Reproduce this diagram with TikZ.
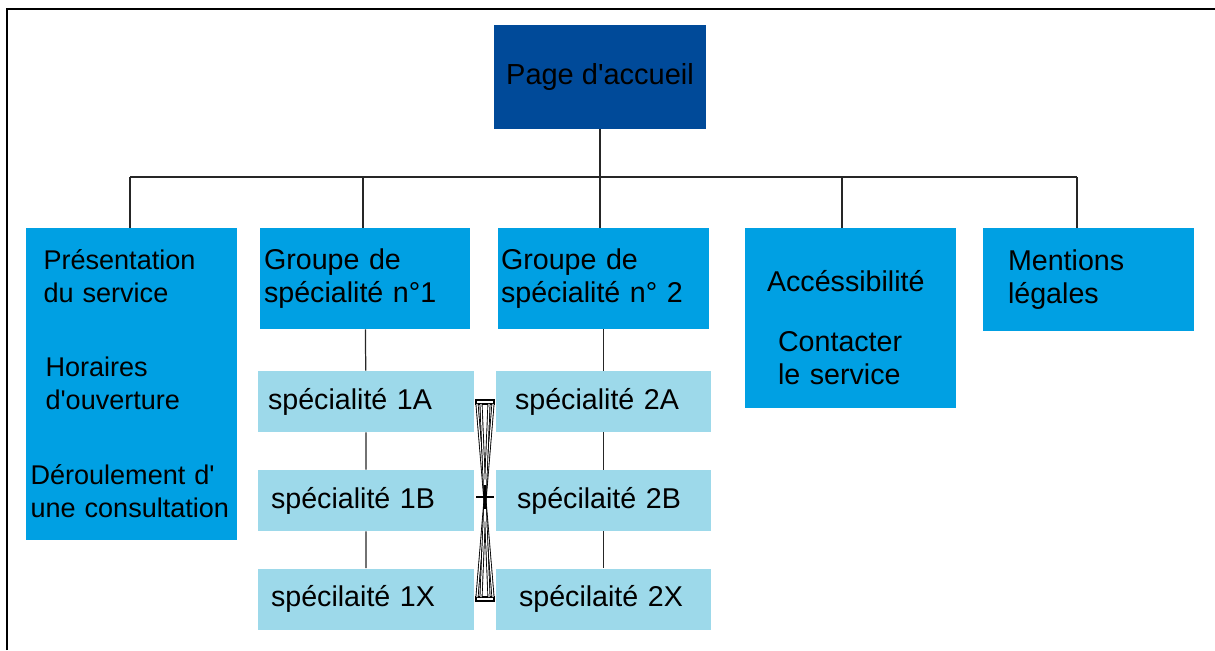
\documentclass[tikz,border=0pt]{standalone}
\usepackage{fontspec}
\setmainfont{Liberation Sans}[Ligatures=TeXOff]
\definecolor{topblue}{RGB}{0,74,153}
\definecolor{mainblue}{RGB}{0,160,227}
\definecolor{subblue}{RGB}{157,217,234}

\begin{document}
\begin{tikzpicture}[x=0.02cm,y=-0.02cm,
  box/.style={inner sep=0pt,align=left,text=black,font=\fontsize{16.3}{18.8}\selectfont},
  mainbox/.style={box,fill=mainblue,minimum width=4.22cm},
  subbox/.style={box,fill=subblue,minimum height=1.22cm},
  link/.style={draw=black!85,line width=0.7pt}]
\useasboundingbox (0,0) rectangle (1215,650);
\draw[line width=1.2pt] (7,650) -- (7,9) -- (1215,9);

\node[box,fill=topblue,minimum width=4.24cm,minimum height=2.08cm,align=center,font=\fontsize{16.5}{20}\selectfont] (acc) at (600,77) {Page d'accueil};

\node[mainbox,minimum height=6.24cm,text width=4.04cm,font=\fontsize{15.4}{18.8}\selectfont] (pres) at (131.5,384) {\hspace*{0.26cm}Présentation\\\hspace*{0.26cm}du service\\[0.82cm]\hspace*{0.3cm}Horaires\\\hspace*{0.3cm}d'ouverture\\[0.84cm]Déroulement d'\\\mbox{une consultation}};
\node[mainbox,minimum width=4.2cm,minimum height=2.02cm,text width=4.04cm] (grp1) at (365,278.5) {Groupe de\\spécialité n°1};
\node[mainbox,minimum height=2.02cm,text width=4.1cm] (grp2) at (603.5,278.5) {Groupe de\\spécialité n° 2};
\node[mainbox,minimum height=3.6cm,text width=3.34cm] (acs) at (850.5,318) {\rule{0pt}{0.79cm}Accéssibilité\\[0.54cm]\hspace*{0.22cm}Contacter\\\hspace*{0.22cm}le service};
\node[mainbox,minimum height=2.06cm,text width=3.22cm] (ment) at (1088.5,279.5) {Mentions\\légales};

\node[subbox,minimum width=4.32cm,text width=3.92cm] (s1a) at (366,401.5) {spécialité 1A};
\node[subbox,minimum width=4.32cm,text width=3.8cm] (s1b) at (366,500.5) {spécialité 1B};
\node[subbox,minimum width=4.32cm,text width=3.8cm] (s1x) at (366,599) {spécilaité 1X};
\node[subbox,minimum width=4.3cm,text width=3.54cm] (s2a) at (603.5,401.5) {spécialité 2A};
\node[subbox,minimum width=4.3cm,text width=3.46cm] (s2b) at (603.5,500.5) {spécilaité 2B};
\node[subbox,minimum width=4.3cm,text width=3.38cm] (s2x) at (603.5,599) {spécilaité 2X};

\coordinate (bus) at (600,177);
\draw[link] (acc.south) -- (bus);
\draw[link] (130,177) -- (1077,177);
\foreach \n/\px in {pres/130,grp1/363,grp2/600,acs/842,ment/1077}
  \draw[link] (\px,177) -- (\px,177 |- \n.north);
\draw[link] (grp1) -- (s1a) (s1a) -- (s1b) (s1b) -- (s1x);
\draw[link] (grp2) -- (s2a) (s2a) -- (s2b) (s2b) -- (s2x);

\draw[line width=0.7pt,fill=white] (476,400) rectangle (494,404) (476,597) rectangle (494,601);
\draw[line width=0.5pt,double=white,double distance=0.7pt] (477,404) -- (493,597) (493,404) -- (477,597);
\draw[line width=0.5pt,double=white,double distance=0.7pt] (481,404) -- (489,597) (489,404) -- (481,597);
\draw[line width=0.7pt] (476,497) -- (494,497) (485,485) -- (485,509);
\end{tikzpicture}
\end{document}
